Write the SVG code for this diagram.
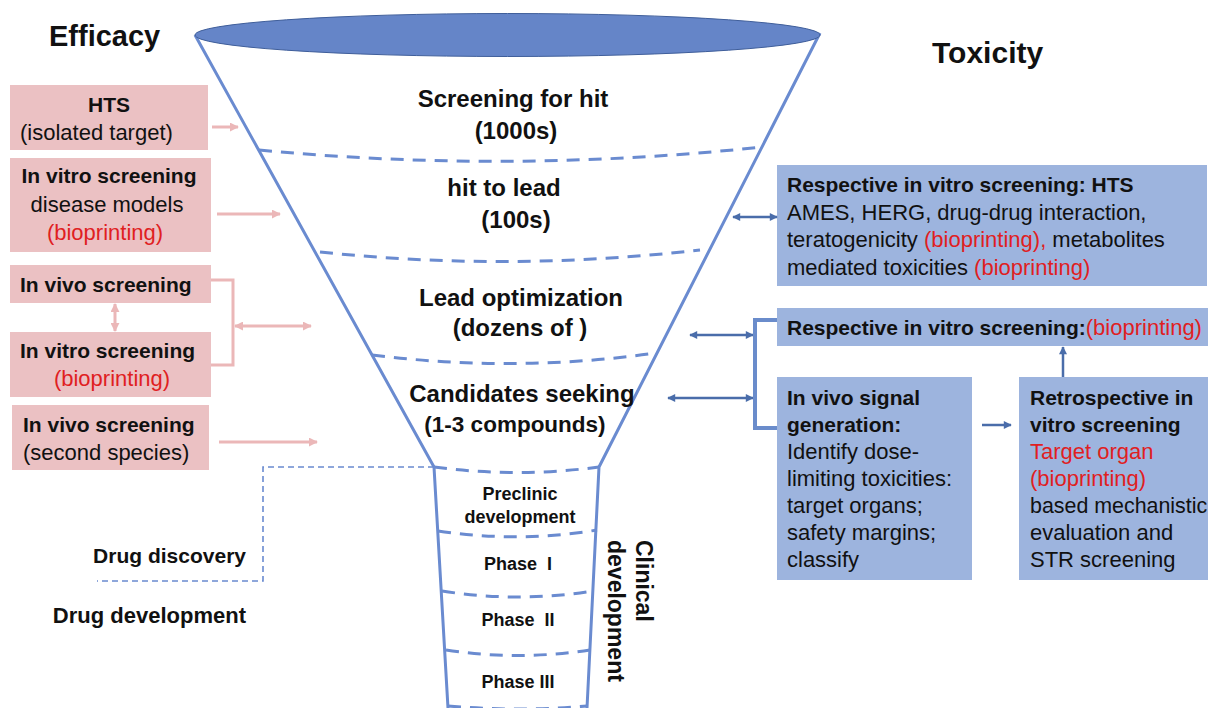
<svg xmlns="http://www.w3.org/2000/svg" width="1208" height="708" viewBox="0 0 1208 708">
<defs>
<style>
text{font-family:"Liberation Sans",Arial,sans-serif;fill:#111}
.b{font-weight:bold;font-size:21px}
.red{fill:#E0201F}
.pink{fill:#EBC1C3}
.blue{fill:#9DB4DE}
.fun{fill:none;stroke:#6A8BD0;stroke-width:3}
.dash{fill:none;stroke:#6A8BD0;stroke-width:3;stroke-dasharray:13 9}
.thin{fill:none;stroke:#6A8BD0;stroke-width:1.6;stroke-dasharray:6 4}
.pa{fill:none;stroke:#EBB7B8;stroke-width:3}
.da{fill:none;stroke:#4A6DAA;stroke-width:2.5}
.t21{font-size:22px}
.t24{font-size:24px;font-weight:bold;text-anchor:middle}
.t18{font-size:18px;font-weight:bold;text-anchor:middle}
</style>
<marker id="ph" viewBox="0 0 10 10" refX="9" refY="5" markerWidth="9" markerHeight="9" markerUnits="userSpaceOnUse" orient="auto-start-reverse"><path d="M0,0 L10,5 L0,10 z" fill="#EBB7B8"/></marker>
<marker id="dh" viewBox="0 0 10 10" refX="9" refY="5" markerWidth="9" markerHeight="8" markerUnits="userSpaceOnUse" orient="auto-start-reverse"><path d="M0,0 L10,5 L0,10 z" fill="#4A6DAA"/></marker>
</defs>
<rect width="1208" height="708" fill="#fff"/>

<g id="titles">
<text x="49" y="46" font-size="29" font-weight="bold">Efficacy</text>
<text x="932" y="63" font-size="30" font-weight="bold">Toxicity</text>
</g>

<g id="funnel">
<path class="fun" d="M195,35 L434,467 L448,708 M820,33 L599,467 L587,708"/>
<ellipse cx="507.5" cy="35" rx="312.5" ry="21.5" fill="#6585C8" stroke="#3F5E9A" stroke-width="1"/>
<path class="dash" d="M259,150 Q510,174 762,147"/>
<path class="dash" d="M320,252 Q510,272 700,250"/>
<path class="dash" d="M372,355 Q515,373 656,353"/>
<path class="dash" d="M434,467 Q516,478 599,467"/>
<path class="dash" d="M438,531 Q518,543 597,530"/>
<path class="dash" d="M442,591 Q518,603 593,591"/>
<path class="dash" d="M446,650 Q518,661 590,650"/>
<path class="dash" d="M448,706 Q518,712 587,706"/>
<text class="t24" x="513" y="107">Screening for hit</text>
<text class="t24" x="516" y="139">(1000s)</text>
<text class="t24" x="504" y="196">hit to lead</text>
<text class="t24" x="516" y="228">(100s)</text>
<text class="t24" x="521" y="306">Lead optimization</text>
<text class="t24" x="520" y="336">(dozens of )</text>
<text class="t24" x="522" y="402">Candidates seeking</text>
<text class="t24" x="515" y="432" style="font-size:22.5px">(1-3 compounds)</text>
<text class="t18" x="520" y="500">Preclinic</text>
<text class="t18" x="520" y="523">development</text>
<text class="t18" x="518" y="570" xml:space="preserve">Phase  I</text>
<text class="t18" x="518" y="626" xml:space="preserve">Phase  II</text>
<text class="t18" x="518" y="688">Phase III</text>
<text font-weight="bold" font-size="23" transform="translate(636,540) rotate(90)"><tspan x="0" y="0">Clinical</tspan><tspan x="0" y="28">development</tspan></text>
</g>

<g id="stage-divider">
<path class="thin" d="M434,467 H263 V581 H97"/>
<text class="b" x="246" y="563" text-anchor="end">Drug discovery</text>
<text class="b" x="246" y="623" text-anchor="end" style="font-size:22px">Drug development</text>
</g>

<g id="hts">
<rect class="pink" x="10" y="85" width="198" height="65"/>
<text class="b" x="109" y="112" text-anchor="middle">HTS</text>
<text class="t21" x="20" y="140">(isolated target)</text>
</g>
<g id="invitro-disease">
<rect class="pink" x="10" y="158" width="201" height="94"/>
<text class="b" x="109" y="183" text-anchor="middle">In vitro screening</text>
<text class="t21" x="107" y="212" text-anchor="middle">disease models</text>
<text class="t21 red" x="105" y="240" text-anchor="middle">(bioprinting)</text>
</g>
<g id="invivo-1">
<rect class="pink" x="10" y="265" width="201" height="38"/>
<text class="b" x="20" y="292">In vivo screening</text>
</g>
<g id="invitro-bio">
<rect class="pink" x="10" y="332" width="201" height="65"/>
<text class="b" x="20" y="358">In vitro screening</text>
<text class="t21 red" x="112" y="386" text-anchor="middle">(bioprinting)</text>
</g>
<g id="invivo-2">
<rect class="pink" x="12" y="405" width="197" height="65"/>
<text class="b" x="23" y="432">In vivo screening</text>
<text class="t21" x="23" y="460">(second species)</text>
</g>

<g id="tox-hts">
<rect class="blue" x="777" y="165" width="430" height="121"/>
<text class="b" x="787" y="192">Respective in vitro screening: HTS</text>
<text class="t21" x="787" y="220">AMES, HERG, drug-drug interaction,</text>
<text class="t21" x="787" y="247">teratogenicity <tspan class="red">(bioprinting),</tspan> metabolites</text>
<text class="t21" x="787" y="275">mediated toxicities <tspan class="red">(bioprinting)</tspan></text>
</g>
<g id="tox-bio">
<rect class="blue" x="777" y="308" width="431" height="38"/>
<text x="787" y="335"><tspan class="b">Respective in vitro screening:</tspan><tspan class="t21 red">(bioprinting)</tspan></text>
</g>
<g id="tox-invivo">
<rect class="blue" x="777" y="377" width="195" height="203"/>
<text class="b" x="787" y="405">In vivo signal</text>
<text class="b" x="787" y="432">generation:</text>
<text class="t21" x="787" y="459">Identify dose-</text>
<text class="t21" x="787" y="486">limiting toxicities:</text>
<text class="t21" x="787" y="513">target organs;</text>
<text class="t21" x="787" y="540">safety margins;</text>
<text class="t21" x="787" y="567">classify</text>
</g>
<g id="tox-retro">
<rect class="blue" x="1019" y="377" width="189" height="203"/>
<text class="b" x="1030" y="405">Retrospective in</text>
<text class="b" x="1030" y="432">vitro screening</text>
<text class="t21 red" x="1030" y="459">Target organ</text>
<text class="t21 red" x="1030" y="486">(bioprinting)</text>
<text x="1030" y="513" style="font-size:21.4px">based mechanistic</text>
<text class="t21" x="1030" y="540">evaluation and</text>
<text class="t21" x="1030" y="567">STR screening</text>
</g>

<g id="connectors">
<line class="pa" x1="212" y1="127" x2="238" y2="127" marker-end="url(#ph)"/>
<line class="pa" x1="217" y1="214" x2="280" y2="214" marker-end="url(#ph)"/>
<line class="pa" x1="115" y1="304" x2="115" y2="331" marker-start="url(#ph)" marker-end="url(#ph)"/>
<polyline class="pa" points="211,280 233,280 233,365 211,365"/>
<line class="pa" x1="235" y1="326" x2="311" y2="326" marker-start="url(#ph)" marker-end="url(#ph)"/>
<line class="pa" x1="219" y1="442" x2="317" y2="442" marker-end="url(#ph)"/>
<line class="da" x1="733" y1="217" x2="777" y2="217" marker-start="url(#dh)" marker-end="url(#dh)"/>
<line class="da" x1="690" y1="335" x2="753" y2="335" marker-start="url(#dh)" marker-end="url(#dh)"/>
<line class="da" x1="668" y1="398" x2="753" y2="398" marker-start="url(#dh)" marker-end="url(#dh)"/>
<path d="M777,320 H755 V428 H777" fill="none" stroke="#6A8CCB" stroke-width="4"/>
<line class="da" x1="982" y1="425" x2="1011" y2="425" marker-end="url(#dh)"/>
<line class="da" x1="1063" y1="377" x2="1063" y2="347" marker-end="url(#dh)"/>
</g>
</svg>
